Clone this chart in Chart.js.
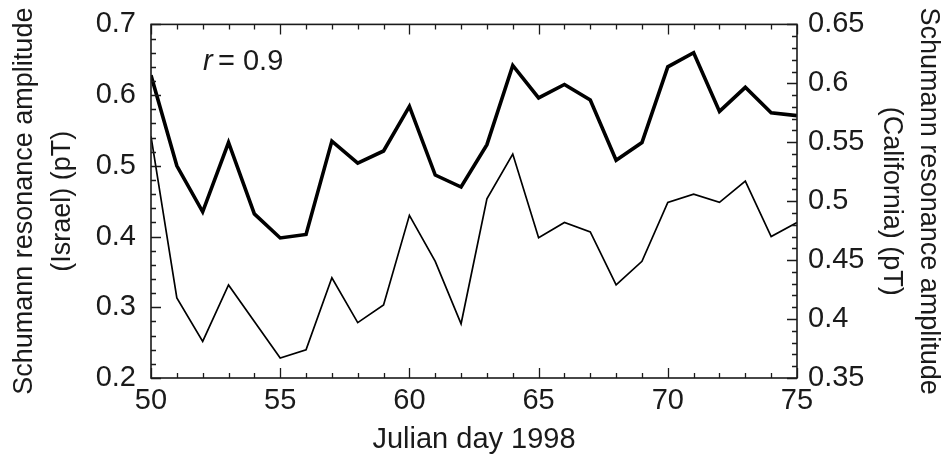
<!DOCTYPE html>
<html>
<head>
<meta charset="utf-8">
<script src="https://cdn.jsdelivr.net/npm/chart.js@4.4.1/dist/chart.umd.min.js"></script>
<style>
  body { margin: 0; background: #fff; }
  #srChart { display: block; }
</style>
</head>
<body>
<canvas id="srChart" width="947" height="454"></canvas>
<script>
// Julian days and the two amplitude series
const days = [50, 51, 52, 53, 54, 55, 56, 57, 58, 59, 60, 61, 62, 63, 64, 65, 66, 67, 68, 69, 70, 71, 72, 73, 74, 75];
const israelAmp = [0.628, 0.500, 0.435, 0.533, 0.432, 0.398, 0.403, 0.535, 0.504, 0.521, 0.584, 0.487, 0.470,
                   0.530, 0.642, 0.596, 0.615, 0.593, 0.508, 0.533, 0.640, 0.660, 0.577, 0.611, 0.575, 0.571];
const californiaAmp = [0.555, 0.418, 0.381, 0.429, 0.398, 0.367, 0.374, 0.435, 0.397, 0.412, 0.488, 0.449, 0.396,
                       0.502, 0.540, 0.469, 0.482, 0.474, 0.429, 0.449, 0.499, 0.506, 0.499, 0.517, 0.470, 0.482];
const xTitle = 'Julian day 1998';
const leftTitle = ['Schumann resonance amplitude', '(Israel) (pT)'];
const rightTitle = ['Schumann resonance amplitude', '(California) (pT)'];
const corrLabel = '= 0.9';

const FONT = "'Liberation Sans', Arial, Helvetica, sans-serif";
const INK = '#1a1a1a';

function toPoints(vals) {
  return days.map((d, i) => ({ x: d, y: vals[i] }));
}
function fmt(v) {
  return String(+v.toFixed(2));
}

// box frame + inward ticks on all four sides, and the r label
const frameTicks = {
  id: 'frameTicks',
  afterDatasetsDraw(chart) {
    const { ctx, chartArea: a, scales } = chart;
    ctx.save();
    ctx.strokeStyle = INK;
    ctx.lineWidth = 1.6;
    ctx.strokeRect(a.left, a.top, a.right - a.left, a.bottom - a.top);

    ctx.beginPath();
    for (let d = 50; d <= 75; d++) {
      const x = Math.round(scales.x.getPixelForValue(d)) + 0.5;
      const len = d % 5 === 0 ? 10 : 5;
      ctx.moveTo(x, a.bottom); ctx.lineTo(x, a.bottom - len);
      ctx.moveTo(x, a.top); ctx.lineTo(x, a.top + len);
    }
    for (let k = 20; k <= 70; k += 2) {
      const y = Math.round(scales.y.getPixelForValue(k / 100)) + 0.5;
      const len = k % 10 === 0 ? 10 : 5;
      ctx.moveTo(a.left, y); ctx.lineTo(a.left + len, y);
    }
    for (let k = 35; k <= 65; k++) {
      const y = Math.round(scales.y2.getPixelForValue(k / 100)) + 0.5;
      const len = k % 5 === 0 ? 10 : 5;
      ctx.moveTo(a.right, y); ctx.lineTo(a.right - len, y);
    }
    ctx.lineWidth = 1.3;
    ctx.stroke();

    // r = 0.9
    ctx.fillStyle = INK;
    ctx.textBaseline = 'middle';
    ctx.textAlign = 'left';
    ctx.font = 'italic 29px ' + FONT;
    ctx.fillText('r', 203, 62);
    ctx.font = '29px ' + FONT;
    ctx.fillText(corrLabel, 218, 62);
    ctx.restore();
  }
};

const ctx = document.getElementById('srChart').getContext('2d');
new Chart(ctx, {
  type: 'line',
  data: {
    datasets: [
      {
        label: 'Israel',
        data: toPoints(israelAmp),
        yAxisID: 'y',
        borderColor: '#000',
        borderWidth: 3.6,
        pointRadius: 0,
        tension: 0,
        fill: false
      },
      {
        label: 'California',
        data: toPoints(californiaAmp),
        yAxisID: 'y2',
        borderColor: '#000',
        borderWidth: 1.7,
        pointRadius: 0,
        tension: 0,
        fill: false
      }
    ]
  },
  options: {
    responsive: false,
    animation: false,
    layout: { padding: { top: 20, left: 0, right: 0, bottom: 0 } },
    plugins: {
      legend: { display: false },
      tooltip: { enabled: false }
    },
    scales: {
      x: {
        type: 'linear',
        min: 50,
        max: 75,
        grid: { display: false },
        border: { display: false },
        ticks: {
          stepSize: 5,
          padding: -2,
          color: INK,
          maxRotation: 0,
          font: { family: FONT, size: 29 }
        },
        title: {
          display: true,
          text: xTitle,
          color: INK,
          padding: 0,
          font: { family: FONT, size: 29, lineHeight: 1.0 }
        },
        afterFit(scale) { scale.height = 76; }
      },
      y: {
        position: 'left',
        min: 0.2,
        max: 0.7,
        grid: { display: false },
        border: { display: false },
        ticks: {
          stepSize: 0.1,
          padding: 7,
          color: INK,
          font: { family: FONT, size: 29 },
          callback: v => fmt(v)
        },
        title: {
          display: true,
          text: leftTitle,
          color: INK,
          padding: { top: 6, bottom: 0 },
          font: { family: FONT, size: 27, lineHeight: 1.4 }
        },
        afterFit(scale) { scale.width = 151; }
      },
      y2: {
        position: 'right',
        min: 0.35,
        max: 0.65,
        grid: { display: false },
        border: { display: false },
        ticks: {
          stepSize: 0.05,
          padding: 3,
          color: INK,
          font: { family: FONT, size: 29 },
          callback: v => fmt(v)
        },
        title: {
          display: true,
          text: rightTitle,
          color: INK,
          padding: { top: 0, bottom: 0 },
          font: { family: FONT, size: 27, lineHeight: 1.37 }
        },
        afterFit(scale) { scale.width = 150; }
      }
    }
  },
  plugins: [frameTicks]
});
</script>
</body>
</html>
